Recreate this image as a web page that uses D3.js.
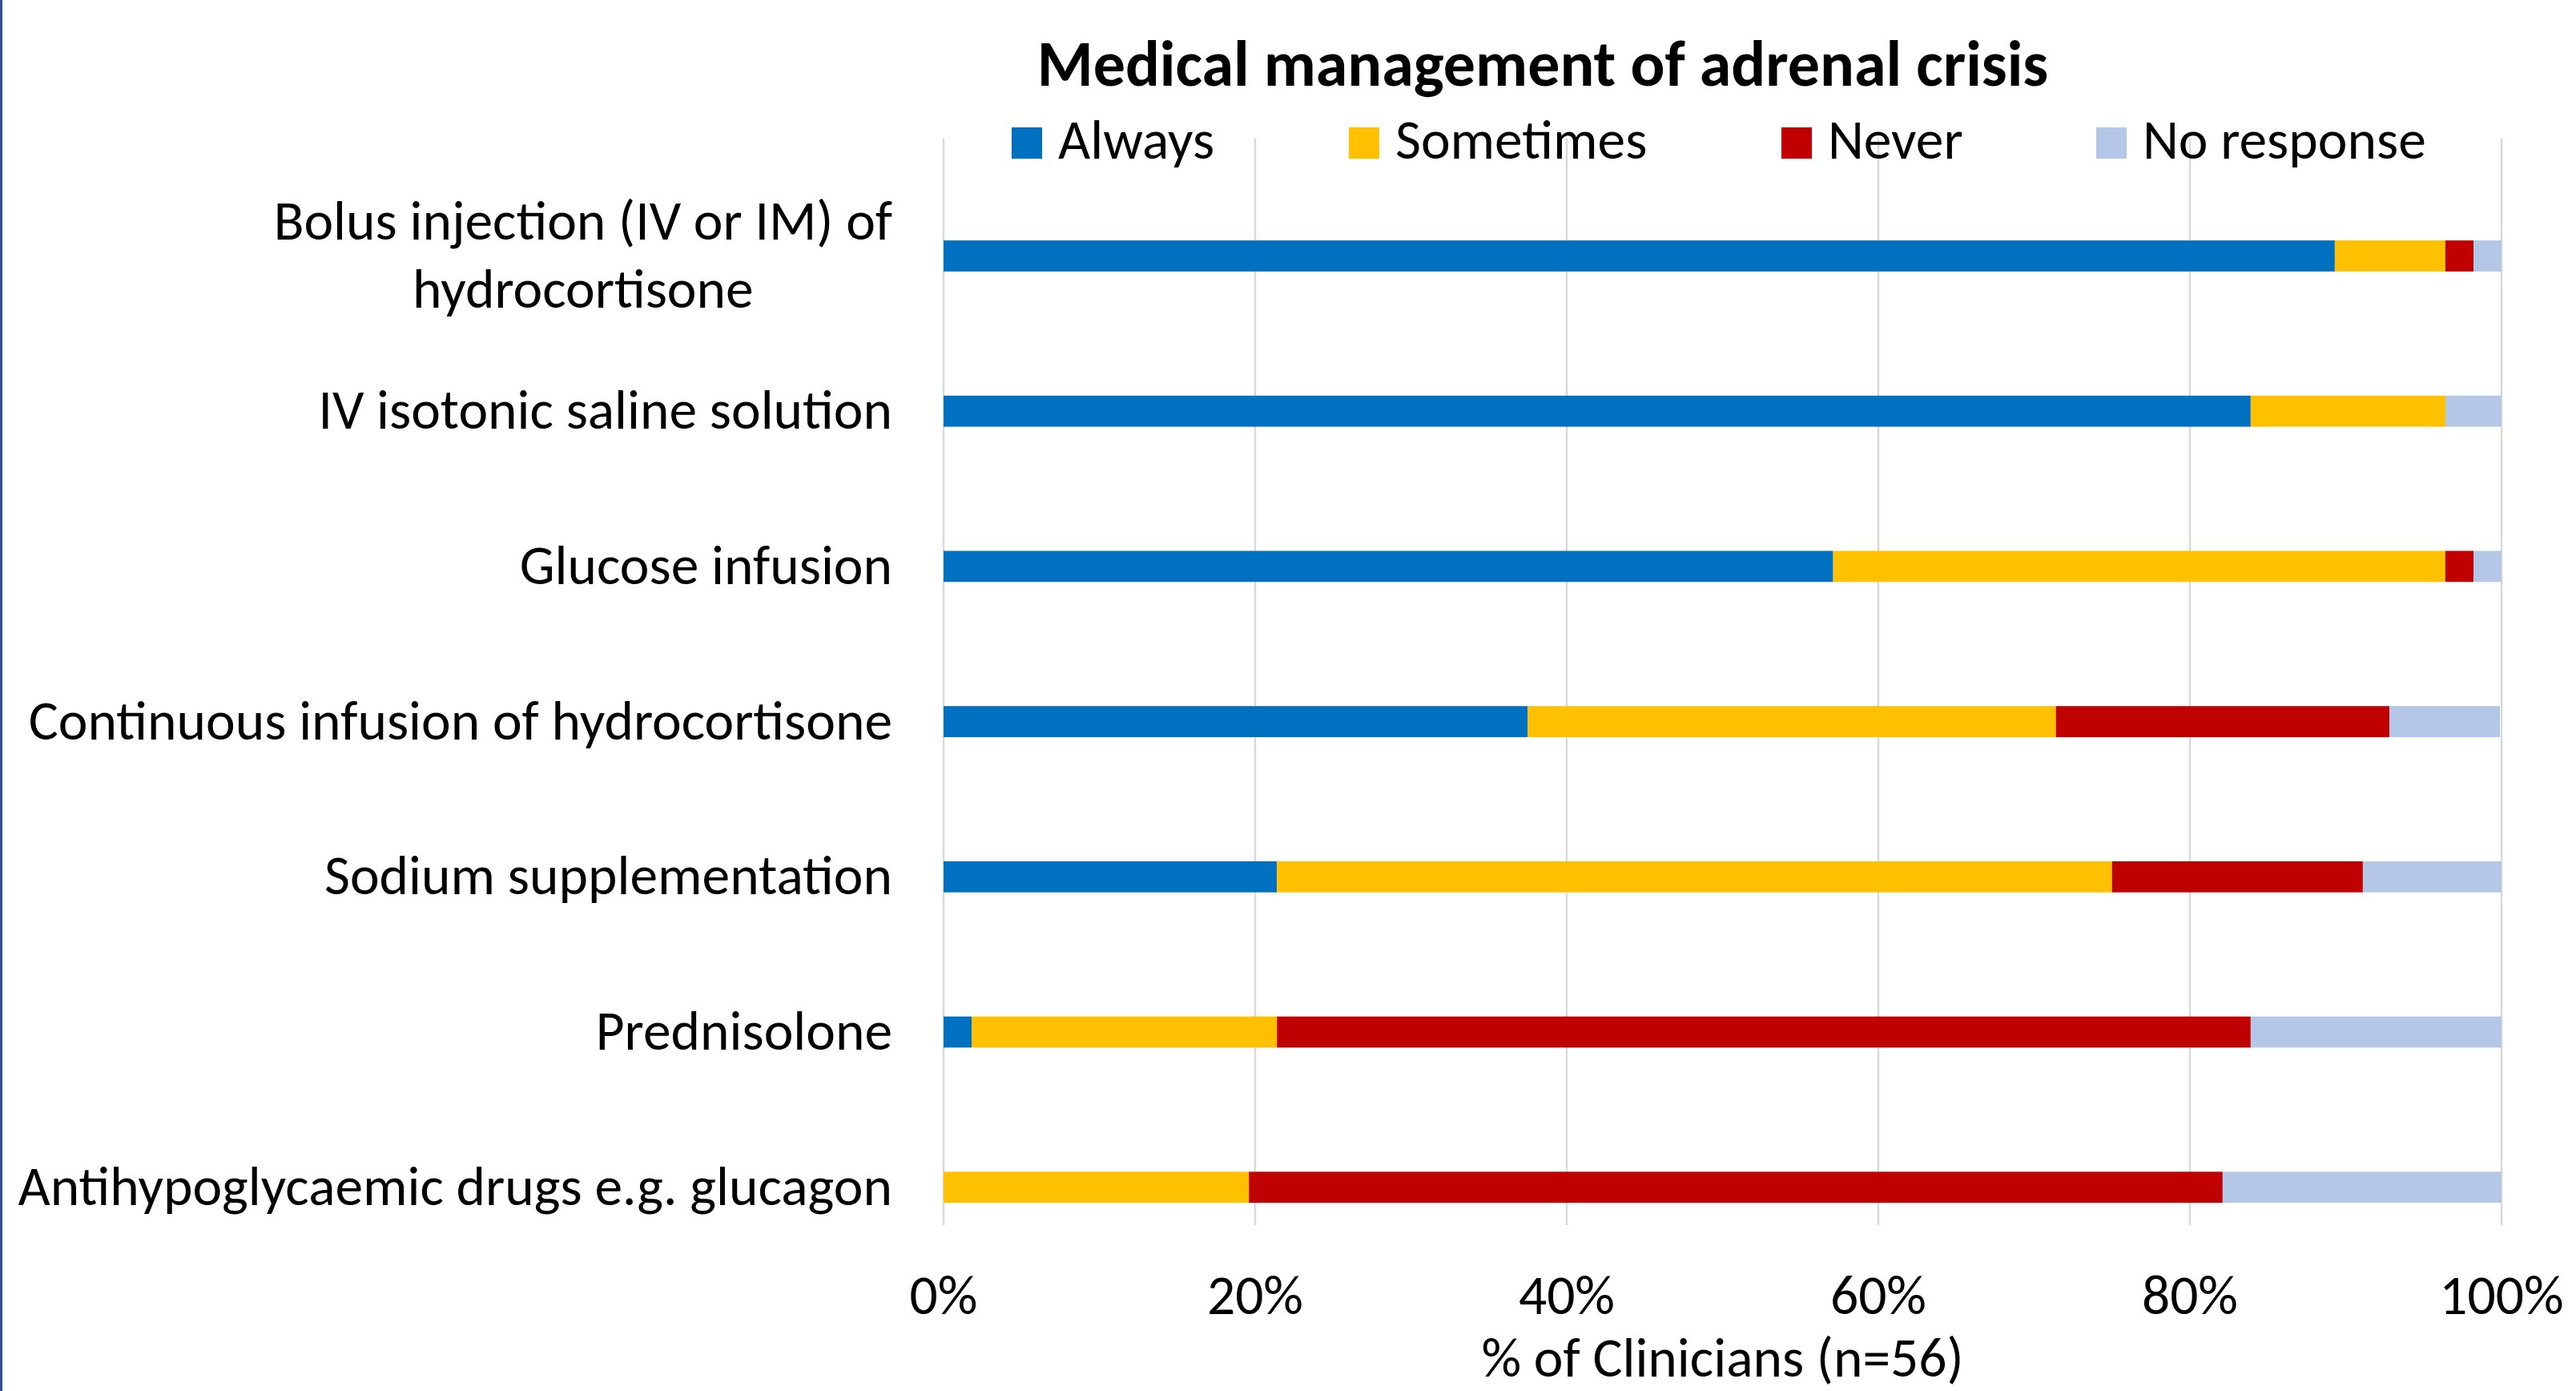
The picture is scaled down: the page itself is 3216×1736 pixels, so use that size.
<!DOCTYPE html>
<html>
<head>
<meta charset="utf-8">
<script src="https://cdn.jsdelivr.net/npm/d3@7"></script>
<style>
  html, body { margin: 0; padding: 0; background: #fff; }
  svg { display: block; }
  text { font-family: Carlito, Calibri, Lato, "Open Sans", sans-serif; fill: #000; }
</style>
</head>
<body>
<div id="chart"></div>
<script>
const width = 3216;
const height = 1736;
const margin = { top: 173, bottom: 207, left: 1178, right: 93 };

const categories = [
    ["Bolus injection (IV or IM) of", "hydrocortisone"],
    ["IV isotonic saline solution"],
    ["Glucose infusion"],
    ["Continuous infusion of hydrocortisone"],
    ["Sodium supplementation"],
    ["Prednisolone"],
    ["Antihypoglycaemic drugs e.g. glucagon"],
];

const seriesNames = ["Always", "Sometimes", "Never", "No response"];
const seriesColors = ["#0070C0", "#FFC000", "#C00000", "#B4C7E7"];

// % of clinicians, one array per answer
const always     = [89.3, 83.9, 57.1, 37.5, 21.4,  1.8,  0.0];
const sometimes  = [ 7.1, 12.5, 39.3, 33.9, 53.6, 19.6, 19.6];
const never      = [ 1.8,  0.0,  1.8, 21.4, 16.1, 62.5, 62.5];
const noResponse = [ 1.8,  3.6,  1.8,  7.1,  8.9, 16.1, 17.9];

const xTicks = [0, 20, 40, 60, 80, 100];

const rows = categories.map((c, i) => ({
    key: i,
    Always: always[i],
    Sometimes: sometimes[i],
    Never: never[i],
    "No response": noResponse[i],
}));

const svg = d3.select('#chart')
    .append('svg')
    .attr('width', width)
    .attr('height', height)
    .attr("viewBox", [0, 0, width, height]);

// thin frame line on the left edge
svg.append("rect")
    .attr("x", 0).attr("y", 0)
    .attr("width", 3).attr("height", height)
    .attr("fill", "#2F4B9A");

const x = d3.scaleLinear()
    .domain([0, 100])
    .range([margin.left, width - margin.right]);

const y = d3.scaleBand()
    .domain(d3.range(categories.length))
    .range([margin.top, height - margin.bottom])
    .paddingInner(0.8)
    .paddingOuter(0.4)
    .align(0.82);

// gridlines
svg.append("g")
    .selectAll("line")
    .data(xTicks)
    .join("line")
        .attr("x1", d => x(d))
        .attr("x2", d => x(d))
        .attr("y1", margin.top)
        .attr("y2", height - margin.bottom)
        .attr("stroke", "#D9D9D9")
        .attr("stroke-width", 2.5);

const stack = d3.stack().keys(seriesNames)(rows);

svg.append("g")
    .selectAll("g")
    .data(stack)
    .join("g")
        .attr("fill", (d, i) => seriesColors[i])
    .selectAll("rect")
    .data(d => d)
    .join("rect")
        .attr("x", d => x(d[0]))
        .attr("y", d => y(d.data.key))
        .attr("width", d => x(d[1]) - x(d[0]))
        .attr("height", y.bandwidth());

// category labels
const labelSize = 69.5;
const lineGap = 85;
const labels = svg.append("g")
    .attr("font-size", labelSize + "px")
    .selectAll("text")
    .data(categories)
    .join("text")
        .attr("text-anchor", "middle")
        .attr("transform", (d, i) => `translate(0, ${y(i) + y.bandwidth() / 2})`);

labels.selectAll("tspan")
    .data(d => d.map((line, j) => ({ line, j, n: d.length })))
    .join("tspan")
        .attr("x", 0)
        .attr("y", d => (d.j - (d.n - 1) / 2) * lineGap + 22)
        .text(d => d.line);

// right-align each label block at the axis side
labels.each(function(d, i) {
    const box = this.getBBox();
    const shift = 1114 - (box.x + box.width);
    d3.select(this).attr("transform", `translate(${shift}, ${y(i) + y.bandwidth() / 2})`);
});

// x axis tick labels
svg.append("g")
    .attr("font-size", labelSize + "px")
    .selectAll("text")
    .data(xTicks)
    .join("text")
        .attr("x", d => x(d))
        .attr("y", 1640)
        .attr("text-anchor", "middle")
        .text(d => d + "%");

svg.append("text")
    .attr("x", (x(0) + x(100)) / 2)
    .attr("y", 1718)
    .attr("text-anchor", "middle")
    .attr("font-size", labelSize + "px")
    .text("% of Clinicians (n=56)");

svg.append("text")
    .attr("x", 1926)
    .attr("y", 107)
    .attr("text-anchor", "middle")
    .attr("font-size", "80px")
    .attr("font-weight", "bold")
    .text("Medical management of adrenal crisis");

// legend
const legendX = [1263, 1684, 2224, 2617];
const legend = svg.append("g")
    .selectAll("g")
    .data(seriesNames)
    .join("g")
        .attr("transform", (d, i) => `translate(${legendX[i]}, 159)`);

legend.append("rect")
    .attr("width", 38)
    .attr("height", 39)
    .attr("fill", (d, i) => seriesColors[i]);

legend.append("text")
    .attr("x", 58)
    .attr("y", 39)
    .attr("font-size", labelSize + "px")
    .text(d => d);
</script>
</body>
</html>
